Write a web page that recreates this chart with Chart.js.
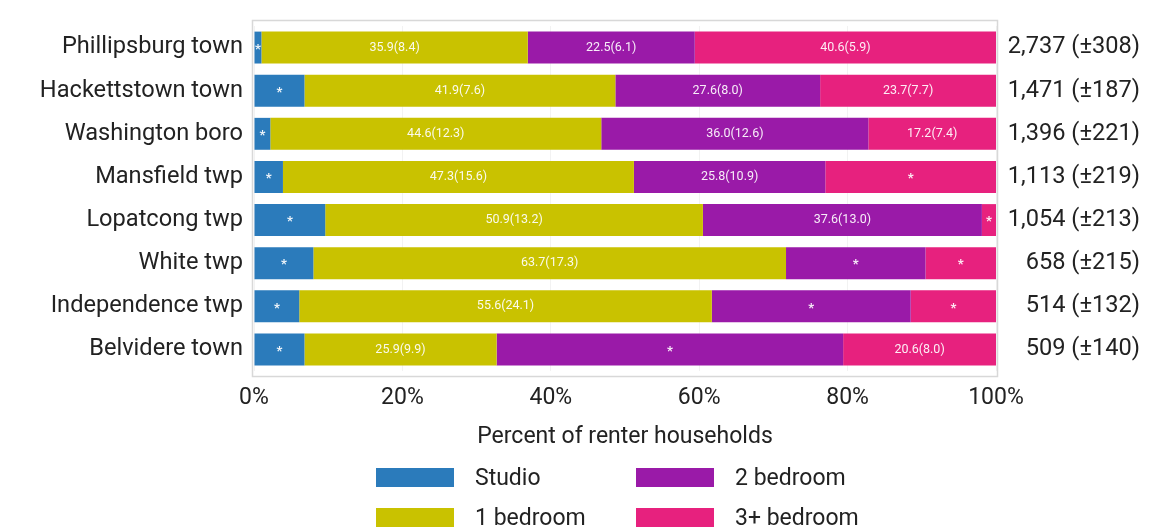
<!DOCTYPE html>
<html>
<head>
<meta charset="utf-8">
<script src="https://cdn.jsdelivr.net/npm/chart.js@4.4.1/dist/chart.umd.min.js"></script>
<style>
  html, body { margin: 0; padding: 0; background: #fff; }
  #wrap { position: relative; width: 1160px; height: 531px; }
  #legend { position: absolute; left: 0; top: 0; font-family: Roboto, sans-serif; font-size: 23px; color: #222; }
  .item { position: absolute; display: flex; align-items: center; white-space: nowrap; }
  .swatch { width: 78px; height: 19px; margin-right: 21px; }
</style>
</head>
<body>
<div id="wrap">
  <canvas id="chart" width="1160" height="531"></canvas>
  <div id="legend"></div>
</div>
<script>
const places = ['Phillipsburg town', 'Hackettstown town', 'Washington boro', 'Mansfield twp',
    'Lopatcong twp', 'White twp', 'Independence twp', 'Belvidere town'];
const totals = ['2,737 (\u00B1308)', '1,471 (\u00B1187)', '1,396 (\u00B1221)', '1,113 (\u00B1219)',
    '1,054 (\u00B1213)', '658 (\u00B1215)', '514 (\u00B1132)', '509 (\u00B1140)'];

const seriesNames = ['Studio', '1 bedroom', '2 bedroom', '3+ bedroom'];
const seriesColors = ['#2b7bbb', '#c9c200', '#9a1aa8', '#e7217e'];

// percent of renter households
const studio = [1.0, 6.8, 2.2, 3.9, 9.6, 8.0, 6.1, 6.8];
const oneBed = [35.9, 41.9, 44.6, 47.3, 50.9, 63.7, 55.6, 25.9];
const twoBed = [22.5, 27.6, 36.0, 25.8, 37.6, 18.8, 26.8, 46.7];
const threeBed = [40.6, 23.7, 17.2, 23.0, 1.9, 9.5, 11.5, 20.6];

// margins of error, null = estimate not shown (*)
const studioMoe = [null, null, null, null, null, null, null, null];
const oneBedMoe = [8.4, 7.6, 12.3, 15.6, 13.2, 17.3, 24.1, 9.9];
const twoBedMoe = [6.1, 8.0, 12.6, 10.9, 13.0, null, null, null];
const threeBedMoe = [5.9, 7.7, 7.4, null, null, null, null, 8.0];

const xTicks = [0, 20, 40, 60, 80, 100];

const FONT = 'Roboto, sans-serif';
const TEXT = '#222';

const values = [studio, oneBed, twoBed, threeBed];
const moes = [studioMoe, oneBedMoe, twoBedMoe, threeBedMoe];

const datasets = seriesNames.map((name, i) => ({
    label: name,
    data: values[i],
    moe: moes[i],
    backgroundColor: seriesColors[i],
    borderWidth: 0,
    barPercentage: 0.74,
    categoryPercentage: 1,
    yAxisID: 'y',
}));

const plotBorder = {
    id: 'plotBorder',
    beforeDatasetsDraw(chart) {
        const { ctx, chartArea: { left, top, right, bottom } } = chart;
        ctx.save();
        ctx.strokeStyle = '#d8d8d8';
        ctx.lineWidth = 1.5;
        ctx.strokeRect(left - 1.5, top - 5.5, right - left + 3, bottom - top + 11);
        ctx.restore();
    }
};

const segmentLabels = {
    id: 'segmentLabels',
    afterDatasetsDraw(chart) {
        const { ctx } = chart;
        ctx.save();
        ctx.textAlign = 'center';
        ctx.textBaseline = 'middle';
        ctx.fillStyle = 'rgba(255,255,255,0.92)';
        chart.data.datasets.forEach((ds, di) => {
            const meta = chart.getDatasetMeta(di);
            meta.data.forEach((bar, i) => {
                const moe = ds.moe[i];
                const cx = (bar.x + bar.base) / 2;
                if (moe == null) {
                    ctx.font = `bold 13px ${FONT}`;
                    ctx.fillText('*', cx, bar.y + 2);
                } else {
                    ctx.font = `12.5px ${FONT}`;
                    ctx.fillText(`${ds.data[i].toFixed(1)}(${moe.toFixed(1)})`, cx, bar.y);
                }
            });
        });
        ctx.restore();
    }
};

const chart = new Chart(document.getElementById('chart'), {
    type: 'bar',
    data: { labels: places, datasets },
    options: {
        indexAxis: 'y',
        responsive: false,
        animation: false,
        layout: { padding: { top: 26, bottom: 74, left: 0, right: 20 } },
        plugins: {
            legend: { display: false },
            tooltip: { enabled: false },
        },
        scales: {
            x: {
                stacked: true,
                min: 0,
                max: 100,
                afterBuildTicks(scale) {
                    scale.ticks = xTicks.map(v => ({ value: v }));
                },
                afterFit(scale) { scale.height = 86; },
                grid: { color: '#f2f2f2', drawTicks: false },
                border: { display: false },
                ticks: {
                    padding: 13,
                    color: TEXT,
                    font: { family: FONT, size: 23 },
                    callback: v => v + '%',
                },
                title: {
                    display: true,
                    text: 'Percent of renter households',
                    color: TEXT,
                    font: { family: FONT, size: 23 },
                    padding: { top: 0, bottom: 6 },
                },
            },
            y: {
                stacked: true,
                position: 'left',
                afterFit(scale) { scale.width = 254; },
                grid: { display: false, drawTicks: false },
                border: { display: false },
                ticks: {
                    padding: 11,
                    color: TEXT,
                    font: { family: FONT, size: 23.6 },
                },
            },
            y2: {
                type: 'category',
                labels: totals,
                position: 'right',
                offset: true,
                afterFit(scale) { scale.width = 144; },
                grid: { display: false, drawTicks: false },
                border: { display: false },
                ticks: {
                    padding: 8,
                    crossAlign: 'far',
                    color: TEXT,
                    font: { family: FONT, size: 23.6 },
                },
            },
        },
    },
    plugins: [plotBorder, segmentLabels],
});

// two-column legend under the chart
const legend = document.getElementById('legend');
const legendCols = [376, 636];
const legendRows = [468, 508];
const legendOrder = [0, 2, 1, 3];
legendOrder.forEach((di, k) => {
    const ds = chart.data.datasets[di];
    const item = document.createElement('div');
    item.className = 'item';
    item.style.left = legendCols[k % 2] + 'px';
    item.style.top = (legendRows[Math.floor(k / 2)] - 5) + 'px';
    item.style.height = '29px';
    const sw = document.createElement('span');
    sw.className = 'swatch';
    sw.style.background = ds.backgroundColor;
    const label = document.createElement('span');
    label.textContent = ds.label;
    item.appendChild(sw);
    item.appendChild(label);
    legend.appendChild(item);
});
</script>
</body>
</html>
